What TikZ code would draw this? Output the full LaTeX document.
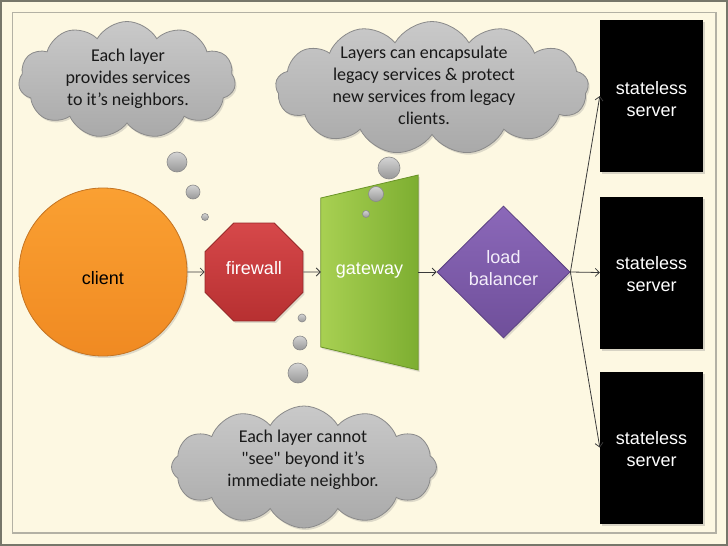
\documentclass[tikz,border=0pt]{standalone}
\usepackage{fontspec}
\setmainfont{Liberation Sans}
\newfontfamily\cloudfont{Carlito}
\usetikzlibrary{shapes.geometric,shapes.symbols,arrows.meta,shadows}
\newcommand\liftbox[2]{\raisebox{#1}[\height][\depth]{\begin{tabular}{@{}c@{}}#2\end{tabular}}}
\definecolor{bg}{HTML}{FDF8E2}
\definecolor{outerframe}{HTML}{77776A}
\definecolor{innerframe}{HTML}{B3B1A4}
\definecolor{cloudtop}{HTML}{C9C9C9}
\definecolor{cloudbot}{HTML}{A9A9A9}
\definecolor{cloudedge}{HTML}{8A8A8A}
\definecolor{orangetop}{HTML}{FAA032}
\definecolor{orangebot}{HTML}{F08A22}
\definecolor{orangeedge}{HTML}{C47422}
\definecolor{redtop}{HTML}{D6484A}
\definecolor{redbot}{HTML}{B73031}
\definecolor{rededge}{HTML}{962828}
\definecolor{greenleft}{HTML}{A8D052}
\definecolor{greenright}{HTML}{7DAE31}
\definecolor{greenedge}{HTML}{6A9427}
\definecolor{purpletop}{HTML}{8B68B9}
\definecolor{purplebot}{HTML}{6F4F9A}
\definecolor{purpleedge}{HTML}{5A4080}
\definecolor{lavtext}{HTML}{F4EEFA}
\definecolor{arrowcol}{HTML}{3A3A3A}
\begin{document}
\begin{tikzpicture}[x=1pt,y=-1pt,
  thought/.style={cloud, cloud ignores aspect, cloud puffs=#1, cloud puff arc=120,
    draw=cloudedge, line width=0.8pt, top color=cloudtop, bottom color=cloudbot,
    inner sep=0pt, drop shadow={opacity=0.25, shadow xshift=1.5pt, shadow yshift=-2pt}},
  cloudtext/.style={align=center, text=black!90, font=\cloudfont\fontsize{18}{22}\selectfont},
  bubble/.style={circle, inner sep=0pt, draw=cloudedge, line width=0.6pt,
    top color=cloudtop!80!white, bottom color=cloudbot!90!black},
  shapetext/.style={font=\fontsize{18}{22}\selectfont, align=center},
  conn/.style={draw=arrowcol, line width=0.8pt, -{Straight Barb[length=4pt,width=8pt]}},
  server/.style={rectangle, fill=black, minimum width=103pt, minimum height=152pt,
    inner sep=0pt, text=white, shapetext,
    drop shadow={opacity=0.3, shadow xshift=1.5pt, shadow yshift=-2pt}},
  shad/.style={drop shadow={opacity=0.25, shadow xshift=1.5pt, shadow yshift=-2pt}}
]
\fill[bg] (0,0) rectangle (728,546);
\useasboundingbox (0,0) rectangle (728,546);
\draw[outerframe, line width=2pt] (1,1) rectangle (727,545);
\draw[innerframe, line width=1.3pt] (12.5,12.5) rectangle (716,533);

% clouds
\node[thought=11, minimum width=217pt, minimum height=117pt] (c1) at (127,80) {};
\node[cloudtext] (t1) at (128,79) {Each layer\\provides services\\to it’s neighbors.};
\node[thought=13, minimum width=313pt, minimum height=133pt] (c2) at (432,88) {};
\node[cloudtext] (t2) at (424,85) {Layers can encapsulate\\legacy services \& protect\\new services from legacy\\clients.};
\node[thought=12, minimum width=265pt, minimum height=122pt] (c3) at (304,467) {};
\node[cloudtext] (t3) at (303,460) {Each layer cannot\\"see" beyond it’s\\immediate neighbor.};

% main shapes
\node[circle, minimum size=168pt, inner sep=0pt, draw=orangeedge, line width=0.8pt,
  top color=orangetop, bottom color=orangebot, shad, shapetext, text=black] (client) at (103,272) {\liftbox{-8.5pt}{client}};
\node[regular polygon, regular polygon sides=8, minimum size=106pt, inner sep=0pt,
  draw=rededge, line width=0.8pt, top color=redtop, bottom color=redbot, shad,
  shapetext, text=white] (fw) at (254,272) {\liftbox{2pt}{firewall}};
\node[minimum width=97pt, minimum height=195pt, inner sep=0pt] (gw) at (369.5,272) {};
\path[draw=greenedge, line width=0.8pt, left color=greenleft, right color=greenright, shad]
  (gw.west |- 0,198) -- (gw.east |- 0,175) -- (gw.east |- 0,370) -- (gw.west |- 0,347) -- cycle;
\node[shapetext, text=white] (gwt) at (369.5,271) {gateway};
\node[diamond, minimum width=133pt, minimum height=132pt, inner sep=0pt,
  draw=purpleedge, line width=0.8pt, top color=purpletop, bottom color=purplebot, shad,
  shapetext, text=lavtext] (lb) at (503.5,272) {\liftbox{1.5pt}{load\\balancer}};

\node[server] (s1) at (651.5,96) {\liftbox{-5pt}{stateless\\server}};
\node[server] (s2) at (651.5,272.5) {\liftbox{-3.5pt}{stateless\\server}};
\node[server] (s3) at (651.5,447.5) {\liftbox{-3.5pt}{stateless\\server}};

% bubbles
\node[bubble, minimum size=20pt] (b1a) at (177,162) {};
\node[bubble, minimum size=14pt] (b1b) at (193,192) {};
\node[bubble, minimum size=7pt] (b1c) at (205,217) {};
\node[bubble, minimum size=22pt] (b2a) at (389,168) {};
\node[bubble, minimum size=15pt] (b2b) at (376,194) {};
\node[bubble, minimum size=7pt] (b2c) at (366,214) {};
\node[bubble, minimum size=8pt] (b3a) at (302,318) {};
\node[bubble, minimum size=14pt] (b3b) at (300,343) {};
\node[bubble, minimum size=20pt] (b3c) at (298,373) {};

% connectors
\draw[conn] (client.east) -- (fw.west);
\draw[conn] (fw.east) -- (gw.west);
\draw[conn] (gw.east) -- (lb.west);
\draw[conn] (lb.east) -- (s1.west);
\draw[conn] (lb.east) -- (s2.west);
\draw[conn] (lb.east) -- (s3.west);
\end{tikzpicture}
\end{document}
